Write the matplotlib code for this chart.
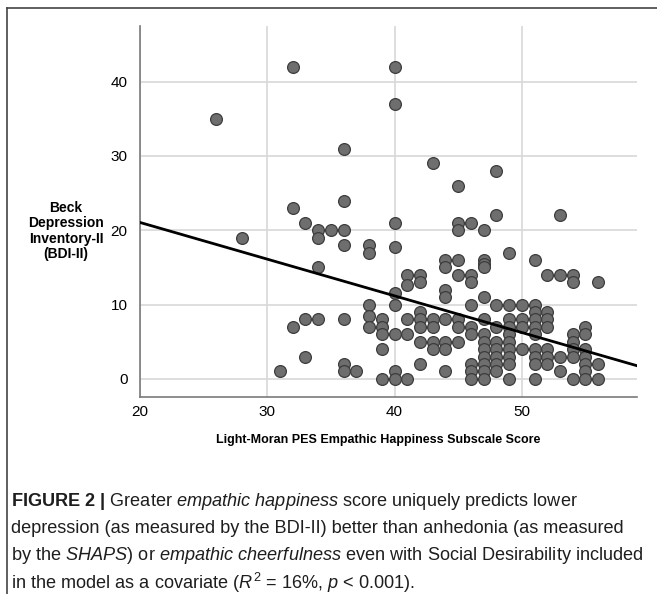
import matplotlib
matplotlib.use("Agg")
from matplotlib import pyplot as plt
import numpy as np

# PES empathic happiness score (x) and BDI-II score (y), read column by column
pes_score = ([26] + [28] + [31] + [32]*3 + [33]*3 + [34]*4 + [35] + [36]*7 + [37] + [38]*5 + [39]*5
             + [40]*9 + [41]*5 + [42]*7 + [43]*5 + [44]*8 + [45]*8 + [46]*9 + [47]*13 + [48]*9
             + [49]*10 + [50]*4 + [51]*10 + [52]*7 + [53]*4 + [54]*7 + [55]*7 + [56]*3)
bdi_score = [35,
             19,
             1,
             42, 23, 7,
             21, 8, 3,
             20, 19, 15, 8,
             20,
             31, 24, 20, 18, 8, 2, 1,
             1,
             18, 17, 10, 8.4, 7,
             8, 7, 6, 4, 0,
             42, 37, 21, 17.7, 11.5, 10, 6, 1, 0,
             14, 12.6, 8, 6, 0,
             14, 13, 9, 8, 7, 5, 2,
             29, 8, 7, 5, 4,
             16, 15, 12, 11, 8, 5, 4, 1,
             26, 21, 20, 16, 14, 8, 7, 5,
             21, 14, 13, 10, 7, 6, 2, 1, 0,
             20, 16, 15.5, 15, 11, 8, 6, 5, 4, 3, 2, 1, 0,
             28, 22, 10, 7, 5, 4, 3, 2, 1,
             17, 10, 8, 7, 6, 5, 4, 3, 2, 0,
             10, 8, 7, 4,
             16, 10, 9, 8, 7, 6, 4, 3, 2, 0,
             14, 9, 8, 7, 4, 3, 2,
             22, 14, 3, 1,
             14, 13, 6, 5, 4, 3, 0,
             7, 6, 4, 3, 2, 1, 0,
             13, 2, 0]

# fitted regression line
fit_intercept = 30.93
fit_slope = -0.494

x_ticks = [20, 30, 40, 50]
y_ticks = [0, 10, 20, 30, 40]
x_label = "Light-Moran PES Empathic Happiness Subscale Score"
y_label = "Beck\nDepression\nInventory-II\n(BDI-II)"

plt.rcParams['font.family'] = ['Liberation Sans', 'DejaVu Sans']
plt.rcParams['mathtext.fontset'] = 'custom'
plt.rcParams['mathtext.rm'] = 'Liberation Sans'
plt.rcParams['mathtext.it'] = 'Liberation Sans:italic'
plt.rcParams['mathtext.bf'] = 'Liberation Sans:bold'

fig = plt.figure(figsize=(6.57, 5.94), dpi=100)
ax = fig.add_axes([140/657, 1-397/594, 497/657, 371/594])

ax.scatter(pes_score, bdi_score, s=72, facecolor='#6e6e6e', edgecolor='#3c3c3c', linewidth=0.9, zorder=3)

xl = np.array([20, 59.05])
ax.plot(xl, fit_intercept + fit_slope*xl, color='black', lw=2, zorder=4)

ax.set_xlim(20, 59.05)
ax.set_ylim(-2.45, 47.5)
ax.set_xticks(x_ticks)
ax.set_yticks(y_ticks)
ax.grid(True, color='#d8d8d8', lw=1.2, zorder=0)
ax.set_axisbelow(True)
ax.tick_params(length=0, labelsize=11)
ax.tick_params(axis='x', pad=6)
ax.tick_params(axis='y', pad=9)
for s in ['top', 'right']:
    ax.spines[s].set_visible(False)
for s in ['left', 'bottom']:
    ax.spines[s].set_color('#7a7a7a')
    ax.spines[s].set_linewidth(1.2)

fig.text(378/657, 1-440/594, x_label, ha='center', va='center', fontweight='bold', fontsize=9)
fig.text(66/657, 1-231/594, y_label, ha='center', va='center',
         fontweight='bold', fontsize=10, linespacing=1.15)

# figure frame (left and top rules)
fig.add_artist(plt.Line2D([7/657, 7/657], [0, 1-8/594], color='#444444', lw=1.2, transform=fig.transFigure))
fig.add_artist(plt.Line2D([7/657, 1], [1-8/594, 1-8/594], color='#444444', lw=1.2, transform=fig.transFigure))

caption = [
    r"$\bf{FIGURE\ 2\ |}$ Greater $\it{empathic\ happiness}$ score uniquely predicts lower",
    "depression (as measured by the BDI-II) better than anhedonia (as measured",
    r"by the $\it{SHAPS}$) or $\it{empathic\ cheerfulness}$ even with Social Desirability included",
    r"in the model as a covariate ($\it{R}^2$ = 16%, $\it{p}$ < 0.001).",
]
for i, line in enumerate(caption):
    fig.text(11/657, 1-(501 + 27.3*i)/594, line, ha='left', va='center', fontsize=13.1, color='#1e1e1e')

fig.savefig("out.png", dpi=100)
